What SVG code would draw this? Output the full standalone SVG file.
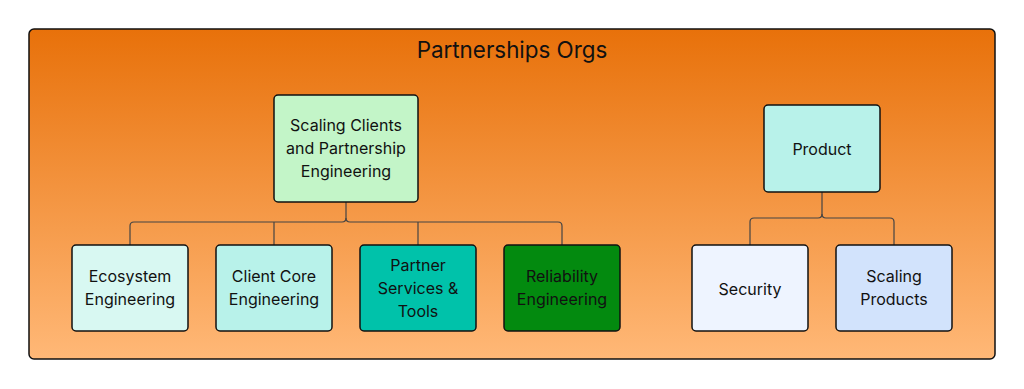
<svg xmlns="http://www.w3.org/2000/svg" width="1024" height="389" viewBox="0 0 1024 389">
<defs>
<linearGradient id="bg" x1="0" y1="0" x2="0" y2="1">
<stop offset="0" stop-color="#E8710A"/>
<stop offset="1" stop-color="#FFB877"/>
</linearGradient>
<style>
.n{stroke:#111;stroke-width:1.5}
.t{font-family:Inter,"Liberation Sans",sans-serif;font-size:16px;fill:#111;text-anchor:middle}
.c{fill:none;stroke:#444;stroke-width:1.2}
</style>
</defs>
<rect width="1024" height="389" fill="#fff"/>
<g id="frame">
<rect x="29" y="29" width="966" height="330" rx="5" fill="url(#bg)" stroke="#111" stroke-width="1.5"/>
<text x="512" y="58" style="font-family:Inter,'Liberation Sans',sans-serif;font-size:22.4px;fill:#111;text-anchor:middle">Partnerships Orgs</text>
</g>
<g id="connectors">
<path class="c" d="M346 202 V218 Q346 222 342 222 H134 Q130 222 130 226 V245"/>
<path class="c" d="M346 218 Q346 222 350 222 H558 Q562 222 562 226 V245"/>
<path class="c" d="M274 222 V245"/>
<path class="c" d="M418 222 V245"/>
<path class="c" d="M822 192 V214 Q822 218 818 218 H754 Q750 218 750 222 V245"/>
<path class="c" d="M822 214 Q822 218 826 218 H890 Q894 218 894 222 V245"/>
</g>
<g id="scaling-clients">
<rect class="n" x="274" y="95" width="144" height="107" rx="4" fill="#C3F5C8"/>
<text class="t" x="346" y="131">Scaling Clients</text>
<text class="t" x="346" y="154">and Partnership</text>
<text class="t" x="346" y="177">Engineering</text>
</g>
<g id="ecosystem">
<rect class="n" x="72" y="245" width="116" height="86" rx="4" fill="#D8F8F2"/>
<text class="t" x="130" y="282">Ecosystem</text>
<text class="t" x="130" y="305">Engineering</text>
</g>
<g id="client-core">
<rect class="n" x="216" y="245" width="116" height="86" rx="4" fill="#B8F2EA"/>
<text class="t" x="274" y="282">Client Core</text>
<text class="t" x="274" y="305">Engineering</text>
</g>
<g id="partner-services">
<rect class="n" x="360" y="245" width="116" height="86" rx="4" fill="#00C2AA"/>
<text class="t" x="418" y="271">Partner</text>
<text class="t" x="418" y="294">Services &amp;</text>
<text class="t" x="418" y="317">Tools</text>
</g>
<g id="reliability">
<rect class="n" x="504" y="245" width="116" height="86" rx="4" fill="#038A0F"/>
<text class="t" x="562" y="282">Reliability</text>
<text class="t" x="562" y="305">Engineering</text>
</g>
<g id="product">
<rect class="n" x="764" y="105" width="116" height="87" rx="4" fill="#B8F2EA"/>
<text class="t" x="822" y="155">Product</text>
</g>
<g id="security">
<rect class="n" x="692" y="245" width="116" height="86" rx="4" fill="#EEF4FF"/>
<text class="t" x="750" y="295">Security</text>
</g>
<g id="scaling-products">
<rect class="n" x="836" y="245" width="116" height="86" rx="4" fill="#D2E3FC"/>
<text class="t" x="894" y="282">Scaling</text>
<text class="t" x="894" y="305">Products</text>
</g>
</svg>
